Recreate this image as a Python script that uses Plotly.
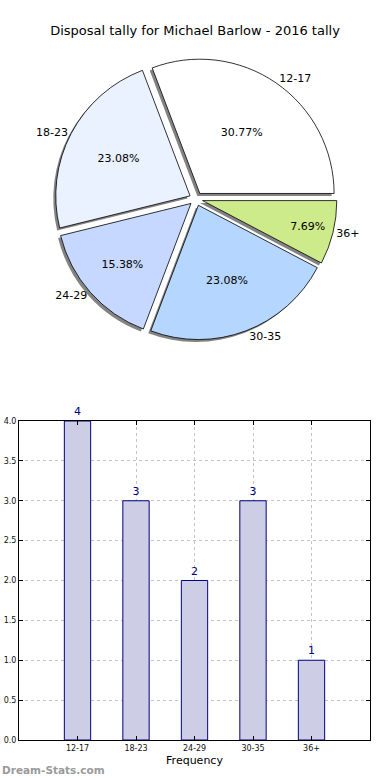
import plotly.graph_objects as go

categories = ["12-17", "18-23", "24-29", "30-35", "36+"]
counts = [4, 3, 2, 3, 1]
slice_colors = ["#ffffff", "#eaf1ff", "#c6d8ff", "#b4d6ff", "#ceeb8c"]
y_ticks = [0.0, 0.5, 1.0, 1.5, 2.0, 2.5, 3.0, 3.5, 4.0]

W, H = 390, 780
FONT = "DejaVu Sans"

# first slice starts at 3 o'clock, going counterclockwise (plotly: rotation marks end of first slice)
rot = 90 - 360 * counts[0] / sum(counts)

cx, cy, half = 196, 199, 141
def dom_x(c, h):
    return [(c - h) / W, (c + h) / W]
def dom_y(c, h):
    return [1 - (c + h) / H, 1 - (c - h) / H]

pull = [0.05] * len(counts)
common = dict(labels=categories, values=counts, sort=False,
              direction="counterclockwise", rotation=rot, pull=pull,
              showlegend=False)
fig = go.Figure()

# shadow
fig.add_trace(go.Pie(
    textinfo="none", hoverinfo="skip",
    marker=dict(colors=["rgba(90,90,90,0.75)"] * len(counts), line=dict(width=0)),
    domain=dict(x=dom_x(cx - 2.5, half), y=dom_y(cy + 2.5, half)), **common))
# main pie with percentages
fig.add_trace(go.Pie(
    textposition="inside", insidetextorientation="horizontal",
    texttemplate="%{percent:.2%}", textfont=dict(family=FONT, size=11, color="#000"),
    marker=dict(colors=slice_colors, line=dict(color="#000", width=0.8)),
    domain=dict(x=dom_x(cx, half), y=dom_y(cy, half)), **common))
# outside labels
fig.add_trace(go.Pie(
    textposition="outside", texttemplate="%{label}",
    textfont=dict(family=FONT, size=11, color="#000"), hoverinfo="skip",
    marker=dict(colors=["rgba(0,0,0,0)"] * len(counts), line=dict(width=0)),
    domain=dict(x=dom_x(cx, half), y=dom_y(cy, half)), **common))

# bar chart
fig.add_trace(go.Bar(
    x=list(range(len(categories))), y=counts, width=0.45,
    marker=dict(color="rgb(205,205,230)", line=dict(color="#000080", width=1)),
    text=[str(c) for c in counts], textposition="outside", cliponaxis=False,
    textfont=dict(family=FONT, size=11, color="#000080"), showlegend=False,
))

axis_common = dict(
    showline=True, linecolor="#000", linewidth=1, mirror="ticks",
    ticks="inside", ticklen=4, tickcolor="#000", automargin=False,
    showgrid=True, gridcolor="#c4c4c4", griddash="dot", gridwidth=1,
    zeroline=False, tickfont=dict(family=FONT, size=8, color="#111"),
)

fig.update_layout(
    width=W, height=H, margin=dict(l=0, r=0, t=0, b=0, autoexpand=False),
    paper_bgcolor="#fff", plot_bgcolor="#fff",
    font=dict(family=FONT, color="#000"),
    title=dict(text="Disposal tally for Michael Barlow - 2016 tally",
               x=0.5, xanchor="center", y=1 - 30 / H, yanchor="middle",
               font=dict(family=FONT, size=13, color="#000")),
    xaxis=dict(domain=[19 / W, 370 / W], range=[-1, 5],
               tickmode="array", tickvals=list(range(len(categories))),
               ticktext=categories,
               title=dict(text="Frequency", font=dict(family=FONT, size=11), standoff=4),
               **axis_common),
    yaxis=dict(domain=[1 - 740 / H, 1 - 421 / H], range=[0, 4],
               tickmode="array", tickvals=y_ticks,
               ticktext=[f"{v:.1f}" for v in y_ticks], **axis_common),
    annotations=[dict(text="<b>Dream-Stats.com</b>", xref="paper", yref="paper",
                      x=0, y=1 - 770 / H, xanchor="left", yanchor="middle",
                      showarrow=False,
                      font=dict(family=FONT, size=10.5, color="#9a9a9a"))],
)

fig.write_html("out.html", config={"displayModeBar": False},
               post_script="document.body.style.margin='0';document.body.style.overflow='hidden';")
